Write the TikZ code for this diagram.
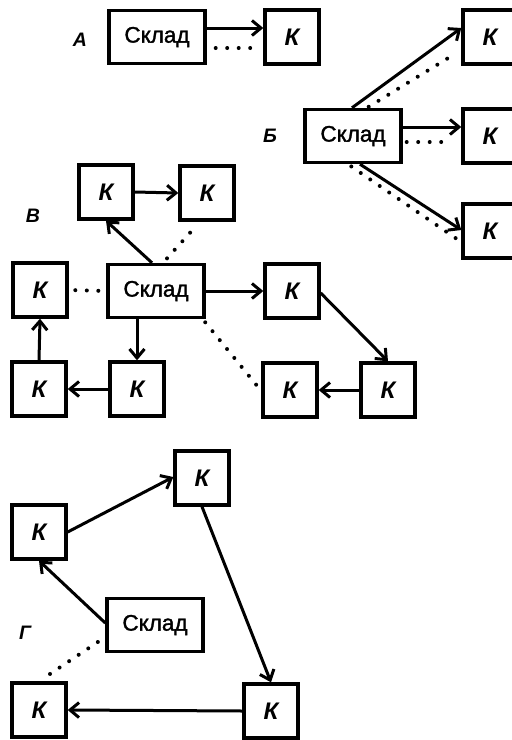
\documentclass[tikz,border=0pt]{standalone}
\usepackage{fontspec}
\setmainfont{Liberation Sans}
\newfontfamily\skfont[FakeBold=1.5]{Liberation Sans}
\usetikzlibrary{arrows.meta}
\tikzset{
  box/.style={draw=black, line width=3.4pt, fill=white, inner sep=0pt},
  sklad/.style={box, minimum width=96pt, minimum height=53pt, font=\skfont\fontsize{22.5}{24}\selectfont},
  kbox/.style={box, minimum width=54pt, minimum height=54pt, font=\fontsize{24}{26}\selectfont\bfseries\itshape},
  arr/.style={line width=3pt, -{Straight Barb[length=9pt,width=15pt,line width=3pt]}},
  dots/.style={line width=4pt, line cap=round, dash pattern=on 0pt off 11.5pt},
  lbl/.style={font=\fontsize{19.5}{21}\selectfont\bfseries\itshape, inner sep=0pt}
}
\begin{document}
\begin{tikzpicture}[x=1pt,y=-1pt]
\clip (0,0) rectangle (512,740);
\fill[white] (0,0) rectangle (512,740);
% ---- A ----
\node[lbl] (la) at (80,40) {А};
\node[sklad] (skA) at (157,37) {Склад};
\node[kbox] (kA) at (292,37) {К};
\draw[arr] ([yshift=9pt]skA.east) -- ([yshift=9pt]kA.west);
\draw[dots, shorten >=5pt, shorten <=9pt] ([yshift=-11pt]skA.east) -- ([yshift=-11pt]kA.west);
% ---- B ----
\node[lbl] (lb) at (270,136) {Б};
\node[sklad] (skB) at (353,136) {Склад};
\node[kbox] (kB1) at (490,37) {К};
\node[kbox] (kB2) at (490,136) {К};
\node[kbox] (kB3) at (490,231) {К};
\draw[arr] ([xshift=-1pt]skB.north) -- ([yshift=9pt]kB1.west);
\draw[dots, shorten >=9pt, shorten <=2pt] ([xshift=14pt]skB.north) -- ([yshift=-13pt]kB1.west);
\draw[arr] ([yshift=9pt]skB.east) -- ([yshift=9pt]kB2.west);
\draw[dots, shorten >=14pt, shorten <=4pt] ([yshift=-6pt]skB.east) -- ([yshift=-6pt]kB2.west);
\draw[arr] ([xshift=7pt]skB.south) -- ([yshift=1pt]kB3.west);
\draw[dots, shorten >=6pt, shorten <=4pt] ([xshift=-5pt]skB.south) -- ([yshift=-11pt]kB3.west);
% ---- V ----
\node[lbl] (lv) at (33,216) {В};
\node[kbox] (k1) at (106,192) {К};
\node[kbox] (k2) at (207,193) {К};
\node[sklad] (skC) at (156,291) {Склад};
\node[kbox] (kL) at (40,290) {К};
\node[kbox] (kR) at (292,291) {К};
\node[kbox] (kBL) at (39,389) {К};
\node[kbox] (kBM) at (137,389) {К};
\node[kbox] (kBR1) at (290,390) {К};
\node[kbox] (kBR2) at (388,390) {К};
\draw[arr] (k1.east) -- (k2.west);
\draw[arr] ([xshift=-4pt]skC.north) -- (k1.south);
\draw[dots, shorten >=4pt, shorten <=6pt] ([xshift=7pt]skC.north) -- ([xshift=-7pt]k2.south);
\draw[dots, shorten >=4pt, shorten <=8pt] (skC.west) -- (kL.east);
\draw[arr] (skC.east) -- (kR.west);
\draw[arr] ([xshift=-19pt]skC.south) -- (kBM.north);
\draw[arr] (kBM.west) -- (kBL.east);
\draw[arr] (kBL.north) -- (kL.south);
\draw[arr] ([yshift=-2pt]kR.east) -- (kBR2.north);
\draw[arr] (kBR2.west) -- (kBR1.east);
\draw[dots, shorten >=6pt, shorten <=4pt] ([xshift=-3pt]skC.south east) -- ([yshift=-1pt]kBR1.west);
% ---- G ----
\node[lbl] (lg) at (25,633) {Г};
\node[kbox] (kG1) at (39,532) {К};
\node[kbox] (kG2) at (202,478) {К};
\node[sklad] (skG) at (155,625) {Склад};
\node[kbox] (kG3) at (39,710) {К};
\node[kbox] (kG4) at (271,711) {К};
\draw[arr] (kG1.east) -- ([yshift=1pt]kG2.west);
\draw[arr] (kG2.south) -- (kG4.north);
\draw[arr] (kG4.west) -- (kG3.east);
\draw[arr] ([yshift=2pt]skG.west) -- (kG1.south);
\draw[dots, shorten >=6pt, shorten <=9pt] ([yshift=-12pt]skG.west) -- (kG3.north);
\end{tikzpicture}
\end{document}
